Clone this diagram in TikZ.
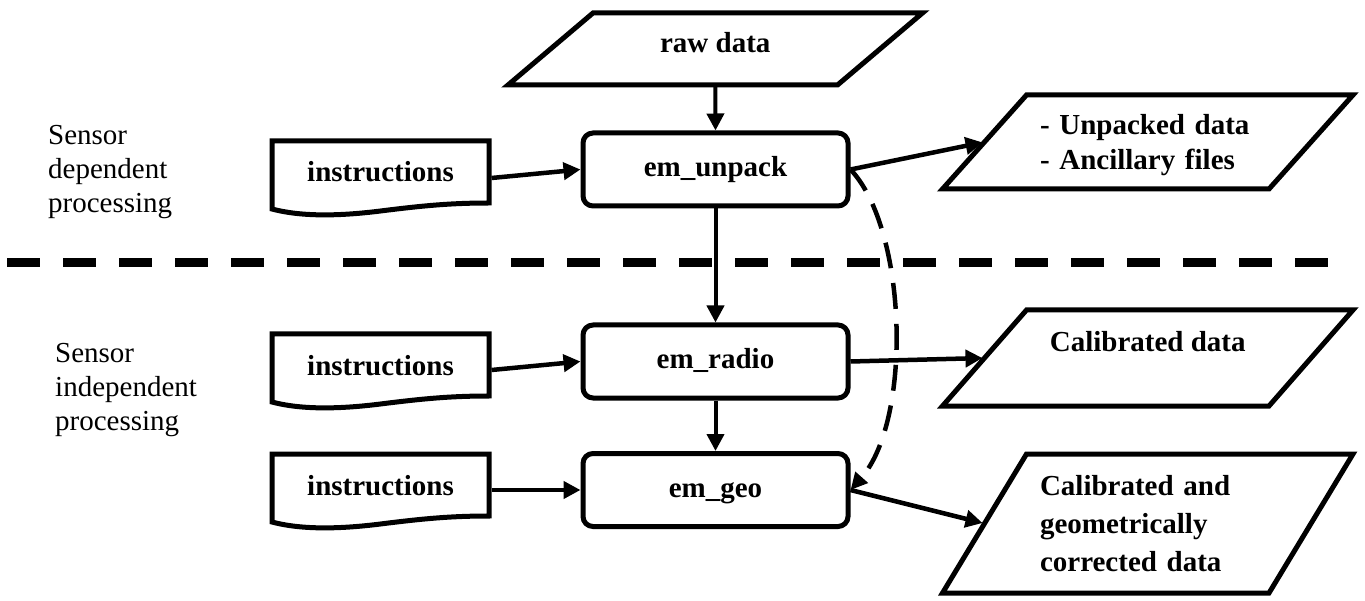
\documentclass[tikz,border=0pt]{standalone}
\usepackage{fontspec}
\setmainfont{Liberation Serif}
\usetikzlibrary{arrows.meta,calc}
\newcommand\bxfont{\fontsize{29}{38}\selectfont\bfseries}
\newcommand\rgfont{\fontsize{29}{34}\selectfont}
\begin{document}
\begin{tikzpicture}[x=1pt,y=-1pt,
  outline/.style={draw, line width=5pt, line join=miter},
  embox/.style={draw, line width=5pt, rounded corners=10pt, minimum width=265pt,
    minimum height=73pt, inner sep=0pt, font=\bxfont, text height=21pt, text depth=7pt},
  docnode/.style={minimum width=217pt, minimum height=62pt, inner sep=0pt,
    outer sep=0pt, font=\bxfont, text height=26pt, text depth=6pt},
  datanode/.style={minimum width=326.5pt, inner sep=0pt, outer sep=0pt, font=\bxfont},
  flow/.style={line width=4.5pt, -{Triangle[length=17pt,width=17pt]}},
  feed/.style={line width=4pt, -{Triangle[length=17pt,width=17pt]}},
  side/.style={font=\rgfont, align=left, anchor=west, inner sep=0pt},
]
\useasboundingbox (0,0) rectangle (1365,601);

% processing steps
\node[embox] (unpack) at (715.5,169.5) {em\_unpack};
\node[embox] (radio)  at (715.5,361.5) {em\_radio};
\node[embox] (geo)    at (715.5,490)   {em\_geo};

% instruction documents
\node[docnode] (ins1) at (380.5,172) {instructions};
\node[docnode] (ins2) at (380.5,365) {instructions};
\node[docnode] (ins3) at (380.5,485) {instructions};

% data (parallelograms)
\node[datanode, minimum width=329.5pt, minimum height=72pt, text height=20pt, text depth=12pt]
  (raw) at (715.25,49) {raw data};
\node[datanode, minimum height=94pt, text width=215.5pt, inner xsep=55.5pt, align=left,
  font=\bxfont\fontsize{29}{35}\selectfont]
  (unp) at (1147.75,142) {\rule{0pt}{27pt}- Unpacked data\\- Ancillary files};
\node[datanode, minimum height=96pt, text height=20pt, text depth=32pt]
  (cal) at (1147.75,358) {Calibrated data};
\node[datanode, minimum height=139pt, text width=215.5pt, inner xsep=55.5pt, align=left]
  (cg) at (1147.75,523.5) {Calibrated and\\geometrically\\corrected data};

% side labels
\node[side] (dep)   at (48,172) {Sensor\\dependent\\processing};
\node[side] (indep) at (55,390) {Sensor\\independent\\processing};

% parallelogram outlines
\foreach \n/\s in {raw/85,unp/84,cal/84,cg/84}
  \draw[outline] ([xshift={0.5*\s}]\n.north west) -- ([xshift={0.5*\s}]\n.north east)
    -- ([xshift={-0.5*\s}]\n.south east) -- ([xshift={-0.5*\s}]\n.south west) -- cycle;

% document outlines with wavy bottom
\foreach \n in {ins1,ins2,ins3}
  \draw[outline] (\n.south east) -- (\n.north east) -- (\n.north west)
    -- ($(\n.south west)+(0,6)$)
    .. controls +(30,8) and +(-40,5) .. ($(\n.south)+(0,8)$)
    .. controls +(40,-5) and +(-40,0) .. (\n.south east) -- cycle;

% separator between sensor dependent and independent parts
\draw[line width=9pt, dash pattern=on 33pt off 23pt] (7,263) -- (1330,263);

% connectors
\draw[feed] (raw.south) -- (unpack.north);
\draw[feed] (unpack.south) -- (radio.north);
\draw[feed] (radio.south) -- (geo.north);
\draw[flow] ($(ins1.east)+(2.5,6)$) -- (unpack.west);
\draw[flow] ($(ins2.east)+(2.5,5)$) -- (radio.west);
\draw[flow] ($(ins3.east)+(2.5,5)$) -- (geo.west);
\draw[flow, shorten >=2pt] (unpack.east) -- (unp.west);
\draw[flow, shorten >=2pt] (radio.east) -- (cal.west);
\draw[flow, shorten >=2pt] (geo.east) -- (cg.west);
\draw[line width=4.5pt, dash pattern=on 26pt off 15pt, -{Triangle[length=17pt,width=16pt]}]
  (unpack.east) .. controls +(57,60) and +(62,-70) .. (geo.east);
\end{tikzpicture}
\end{document}
